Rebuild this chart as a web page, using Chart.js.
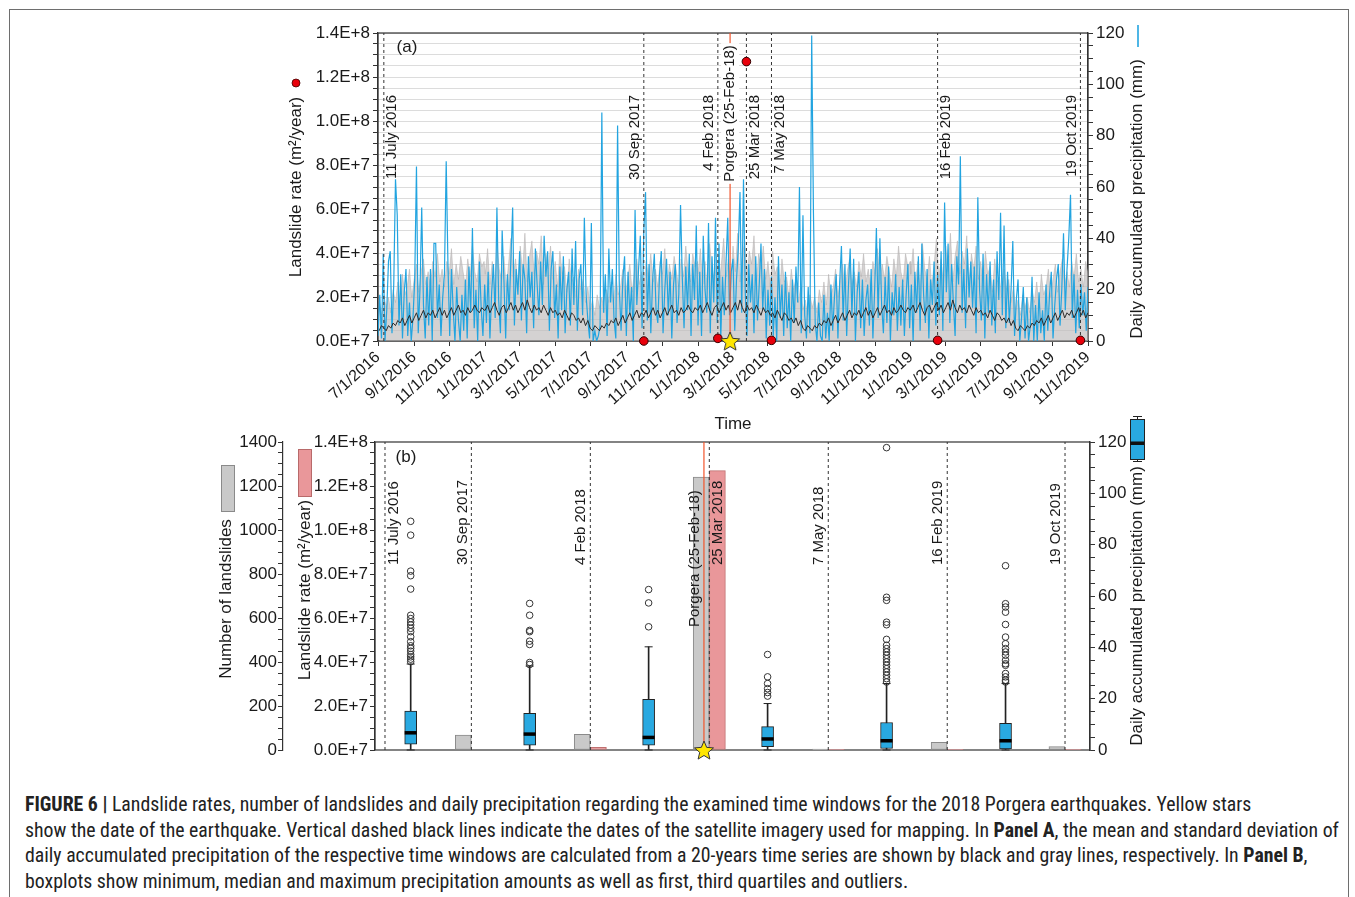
<!DOCTYPE html>
<html><head><meta charset="utf-8">
<script src="https://cdn.jsdelivr.net/npm/chart.js@4.4.1/dist/chart.umd.min.js"></script>
<style>
body{margin:0;background:#fff;}
#wrap{position:relative;width:1355px;height:897px;overflow:hidden;background:#fff;}
#frame{position:absolute;left:9px;top:9px;width:1338px;height:920px;border:1px solid #6e6e6e;}
canvas{position:absolute;left:0;}
#caption{position:absolute;left:25px;top:792px;font-family:"Liberation Sans Narrow","Roboto Condensed","DejaVu Sans Condensed",Arial,sans-serif;font-size:19.8px;line-height:25.6px;color:#222;white-space:nowrap;}
</style></head><body>
<div id="wrap">
<div id="frame"></div>
<canvas id="ca" width="1355" height="440" style="top:0"></canvas>
<canvas id="cb" width="1355" height="370" style="top:400px"></canvas>
<div id="caption"><b>FIGURE 6 |</b> Landslide rates, number of landslides and daily precipitation regarding the examined time windows for the 2018 Porgera earthquakes. Yellow stars<br>show the date of the earthquake. Vertical dashed black lines indicate the dates of the satellite imagery used for mapping. In <b>Panel A</b>, the mean and standard deviation of<br>daily accumulated precipitation of the respective time windows are calculated from a 20-years time series are shown by black and gray lines, respectively. In <b>Panel B</b>,<br>boxplots show minimum, median and maximum precipitation amounts as well as first, third quartiles and outliers.</div>
</div>
<script>
// ================= DATA =================
const START_DATE = '2016-07-01';
const END_DATE = '2019-11-01';
const xTickDates = ['2016-07-01','2016-09-01','2016-11-01','2017-01-01','2017-03-01','2017-05-01','2017-07-01','2017-09-01','2017-11-01','2018-01-01','2018-03-01','2018-05-01','2018-07-01','2018-09-01','2018-11-01','2019-01-01','2019-03-01','2019-05-01','2019-07-01','2019-09-01','2019-11-01'];
const xTickLabels = ['7/1/2016','9/1/2016','11/1/2016','1/1/2017','3/1/2017','5/1/2017','7/1/2017','9/1/2017','11/1/2017','1/1/2018','3/1/2018','5/1/2018','7/1/2018','9/1/2018','11/1/2018','1/1/2019','3/1/2019','5/1/2019','7/1/2019','9/1/2019','11/1/2019'];
const rateTicks = [0, 2e7, 4e7, 6e7, 8e7, 1e8, 1.2e8, 1.4e8];
const rateTickLabels = ['0.0E+7','2.0E+7','4.0E+7','6.0E+7','8.0E+7','1.0E+8','1.2E+8','1.4E+8'];
const precipTicks = [0, 20, 40, 60, 80, 100, 120];
const countTicks = [0, 200, 400, 600, 800, 1000, 1200, 1400];

const imageryDates = ['2016-07-11','2017-09-30','2018-02-04','2018-03-25','2018-05-07','2019-02-16','2019-10-19'];
const imageryLabels = ['11 July 2016','30 Sep 2017','4 Feb 2018','25 Mar 2018','7 May 2018','16 Feb 2019','19 Oct 2019'];
const quakeDate = '2018-02-25';
const quakeLabel = 'Porgera (25-Feb-18)';

// landslide rate (m2/year) and number of landslides at the end of each time window (imageryDates[1..6])
const landslideRate = [0, 1.2e6, 1.27e8, 3e5, 3e5, 3e5];
const landslideCount = [68, 71, 1240, 4, 35, 15];

// daily accumulated precipitation (mm), sampled every 3 days from 1 July 2016
const PRECIP_STEP_DAYS = 3;
const precipValues = [
2,18,1,34,0,12,31,35,3,22,63,49,6,26,1,19,28,2,15,0,
9,24,68,3,20,52,14,1,25,6,28,0,38,38,9,22,2,17,26,70,
30,2,28,12,0,21,8,0,18,4,24,1,29,11,44,5,20,0,31,13,
2,22,7,27,1,19,30,9,52,16,3,43,24,1,26,12,32,52,6,28,
18,35,8,30,24,3,33,17,27,5,36,22,10,31,14,41,25,35,4,28,
35,9,22,1,29,12,33,3,20,27,6,36,14,39,4,24,30,10,48,18,
8,1,46,0,4,0,2,6,89,11,26,2,36,15,28,8,1,84,20,4,
24,33,2,27,10,21,0,51,14,28,41,5,43,58,8,30,3,23,34,12,
7,26,35,3,20,32,10,27,1,22,30,7,18,53,25,5,29,12,34,2,
30,16,45,6,27,2,41,20,11,46,3,33,15,48,7,38,1,25,10,30,
48,10,27,32,4,24,36,58,11,63,19,2,30,15,26,3,33,8,22,38,
12,28,1,20,6,25,2,17,0,33,9,22,2,27,5,19,0,24,7,29,
15,60,3,49,10,1,21,3,119,50,7,0,15,2,0,18,1,11,0,22,
4,17,26,1,23,37,8,30,2,21,36,10,32,0,19,27,5,24,2,16,
22,6,28,1,20,44,9,40,14,3,25,7,29,0,19,10,26,4,21,6,
24,2,18,30,5,22,0,27,11,33,4,38,18,7,28,1,24,14,31,6,
26,10,35,4,54,19,38,7,30,15,2,33,22,72,11,28,5,36,17,31,
13,29,3,56,20,8,34,1,26,11,31,6,24,3,35,16,50,10,45,5,
27,7,20,39,2,16,24,0,9,21,1,17,0,6,25,0,14,0,19,3,
12,0,22,4,18,27,1,14,24,30,6,20,42,12,28,40,57,9,26,3,
20,5,22,10,19,4,21];

// 20-year climatology (mm) by day of year, every 4 days from 1 January
const CLIM_STEP_DAYS = 4;
const meanClimatology = [
12,14,11,13,15,12,10,13, 14,11,13,15,12,14,11, 13,15,12,16,13,11,14,12, 13,11,14,12,10,13,11,
12,10,11,9,12,10,8,11, 10,8,9,7,9,6,8, 5,4,6,5,4,6,5,7, 6,8,7,9,6,8,10,7,
9,11,8,10,12,9,11, 10,12,9,11,13,10,12,9, 11,13,10,12,14,11,12, 10,13,11,12,14,12,11,13,12];
const stdClimatology = [
26,36,22,31,20,38,28,24, 33,21,30,40,25,32,22, 37,27,42,23,33,39,26,35, 30,41,22,34,28,37,24,
31,21,35,26,29,19,32,23, 25,17,28,20,24,15,21, 12,16,10,18,13,17,11,20, 15,23,14,26,18,21,28,17,
24,30,19,27,32,22,27, 21,31,25,34,23,28,21,31, 26,36,22,30,24,33,27, 21,32,25,37,27,23,34,29,31];

// panel b boxplots (mm) per time window
const boxWhiskerLow  = [0, 0, 0, 0, 0, 0];
const boxQ1          = [2.3, 1.9, 1.9, 1.3, 0.6, 0.4];
const boxMedian      = [6.7, 6.2, 4.9, 4.3, 3.6, 3.6];
const boxQ3          = [15.2, 14.3, 19.7, 9.1, 10.7, 10.4];
const boxWhiskerHigh = [33.5, 32.7, 40.2, 18.1, 25.9, 25.9];
const boxOutliers = [
  [34.4,35.4,36.3,37.2,38.5,39.6,40.6,42.2,44.1,46.1,47.4,48.7,49.9,51.2,52.5,62.7,67.9,69.7,83.7,89.1],
  [33.3,34.1,41.1,42.4,46.1,46.6,52.5,57.1],
  [48.0,57.3,62.5],
  [21.0,22.4,23.9,25.9,28.5,37.2],
  [26.5,27.8,29.1,30.4,31.7,33.0,34.3,35.6,36.9,38.2,39.5,40.8,43.1,48.8,49.8,58.3,59.5,117.8],
  [26.5,27.2,28.5,29.8,33.0,33.6,35.0,36.9,38.2,39.5,41.4,44.0,48.9,53.7,55.7,57.0,71.8]
];

// ================= LAYOUT / STYLE =================
const FONT = '"Liberation Sans", Arial, Helvetica, sans-serif';
Chart.defaults.font.family = FONT;
Chart.defaults.color = '#222';
const BLUE = '#22a4e0';
const AXIS = '#333';

// panel b horizontal layout (window units)
const B_XMAX = 6.01, B_START = 0.084, B_QUAKE = 2.765, B_BAR_OFF = 0.068;
const B_WIN_END = [0.81, 1.81, 2.81, 3.81, 4.81, 5.80];
const B_BOX = [0.30, 1.30, 2.30, 3.30, 4.30, 5.30];
const A_SIDES = [1, -1, -1, 1, 1, 1, -1];
const B_SIDES = [1, -1, -1, 1, -1, -1, -1];

const DAY = 864e5;
const t0 = Date.parse(START_DATE + 'T00:00:00Z');
const dayOf = s => Math.round((Date.parse(s + 'T00:00:00Z') - t0) / DAY);
const X_MAX = dayOf(END_DATE);

function stepTicks(max, step) { const a = []; for (let k = 0; k * step <= max + 1e-9; k++) a.push({ value: k * step }); return a; }
function labelFrom(vals, labels) {
  return v => { const i = vals.findIndex(t => Math.abs(t - v) <= 1e-6 * (Math.abs(t) + 1)); return i >= 0 ? labels[i] : ''; };
}
function vLines(xs, top) { const d = []; xs.forEach(x => d.push({ x, y: 0 }, { x, y: top }, { x, y: null })); return d; }
function climSeries(arr) {
  const out = [];
  for (let yr = 2016; yr <= 2019; yr++) {
    const base = (Date.UTC(yr, 0, 1) - t0) / DAY;
    arr.forEach((v, k) => { const x = base + k * CLIM_STEP_DAYS; if (x >= 0 && x <= X_MAX) out.push({ x, y: v }); });
  }
  return out;
}
function makeStar(r) {
  const c = document.createElement('canvas'); const s = Math.ceil(r * 2 + 4); c.width = c.height = s;
  const g = c.getContext('2d'); g.translate(s / 2, s / 2 + 1); g.beginPath();
  for (let k = 0; k < 10; k++) { const rr = k % 2 ? r * 0.45 : r; const a = -Math.PI / 2 + k * Math.PI / 5; g.lineTo(rr * Math.cos(a), rr * Math.sin(a)); }
  g.closePath(); g.fillStyle = '#ffe600'; g.fill(); g.strokeStyle = '#333'; g.lineWidth = 1; g.stroke(); return c;
}
const starImg = makeStar(10);

function vText(ctx, text, x, y, align, size, bg) {
  ctx.save(); ctx.translate(x, y); ctx.rotate(-Math.PI / 2);
  ctx.font = size + 'px ' + FONT; ctx.textAlign = align; ctx.textBaseline = 'middle';
  if (bg) { const w = ctx.measureText(text).width; const x0 = align === 'center' ? -w / 2 : align === 'right' ? -w : 0; ctx.fillStyle = bg; ctx.fillRect(x0 - 2, -9, w + 4, 18); }
  ctx.fillStyle = '#1a1a1a'; ctx.fillText(text, 0, 0); ctx.restore();
}
function hText(ctx, text, x, y, size) {
  ctx.save(); ctx.font = size + 'px ' + FONT; ctx.textAlign = 'center'; ctx.textBaseline = 'middle'; ctx.fillStyle = '#1a1a1a'; ctx.fillText(text, x, y); ctx.restore();
}
function frame(chart) {
  const a = chart.chartArea, ctx = chart.ctx;
  ctx.save(); ctx.strokeStyle = AXIS; ctx.lineWidth = 1.2; ctx.strokeRect(a.left, a.top, a.right - a.left, a.bottom - a.top); ctx.restore();
}
function axisOpts(extra) {
  return Object.assign({
    border: { display: true, color: AXIS, width: 1.2 },
    grid: { drawOnChartArea: false, drawTicks: true, tickLength: 5, tickColor: AXIS, tickWidth: 1 },
    ticks: { autoSkip: false, color: '#1a1a1a', font: { size: 17 }, padding: 3, maxRotation: 0 }
  }, extra);
}

// ================= PANEL A =================
const quakeX = dayOf(quakeDate);
const imageryX = imageryDates.map(dayOf);

const annotA = {
  id: 'annotA',
  beforeDatasetsDraw(chart) { frame(chart); },
  afterDatasetsDraw(chart) {
    const ctx = chart.ctx, xs = chart.scales.x;
    imageryLabels.forEach((t, i) => vText(ctx, t, xs.getPixelForValue(imageryX[i]) + A_SIDES[i] * 8.5, 95, 'right', 15));
    vText(ctx, quakeLabel, xs.getPixelForValue(quakeX), 113.5, 'center', 15, '#fff');
  },
  afterDraw(chart) {
    const ctx = chart.ctx;
    hText(ctx, '(a)', 407, 47, 17);
    vText(ctx, 'Landslide rate (m²/year)', 296, 187, 'center', 17);
    vText(ctx, 'Daily accumulated precipitation (mm)', 1137, 199, 'center', 17);
    hText(ctx, 'Time', 733, 424, 17);
    ctx.save();
    ctx.beginPath(); ctx.arc(296, 83, 4, 0, Math.PI * 2); ctx.fillStyle = '#e8000b'; ctx.fill(); ctx.strokeStyle = '#400'; ctx.lineWidth = 0.8; ctx.stroke();
    ctx.beginPath(); ctx.moveTo(1138, 25); ctx.lineTo(1138, 47); ctx.strokeStyle = BLUE; ctx.lineWidth = 1.6; ctx.stroke();
    ctx.restore();
  }
};

new Chart(document.getElementById('ca'), {
  type: 'line',
  data: {
    datasets: [
      { type: 'scatter', data: [{ x: quakeX, y: 0 }], yAxisID: 'yRate', pointStyle: starImg, order: 0, clip: false },
      { type: 'scatter', data: imageryX.slice(1).map((x, i) => ({ x, y: landslideRate[i] })), yAxisID: 'yRate',
        pointRadius: 4.3, backgroundColor: '#e8000b', borderColor: '#300', borderWidth: 1, order: 1, clip: false },
      { data: vLines([quakeX], 1.4e8), yAxisID: 'yRate', borderColor: '#f2552c', borderWidth: 1.2, pointRadius: 0, order: 2 },
      { data: vLines(imageryX, 1.4e8), yAxisID: 'yRate', borderColor: '#333', borderWidth: 1, borderDash: [3, 3], pointRadius: 0, order: 3 },
      { data: climSeries(meanClimatology), yAxisID: 'yP', borderColor: '#2b2b2b', borderWidth: 1, pointRadius: 0, order: 4 },
      { data: precipValues.map((v, i) => ({ x: i * PRECIP_STEP_DAYS, y: v })), yAxisID: 'yP', borderColor: BLUE, borderWidth: 1.2, pointRadius: 0, order: 5 },
      { data: climSeries(stdClimatology), yAxisID: 'yP', borderColor: 'rgba(175,170,170,0.6)', backgroundColor: 'rgba(192,188,188,0.68)', fill: 'origin', borderWidth: 0.8, pointRadius: 0, order: 6 }
    ]
  },
  options: {
    responsive: false, animation: false, devicePixelRatio: 1,
    layout: { padding: { top: 33, left: 0, right: 0, bottom: 0 } },
    plugins: { legend: { display: false }, tooltip: { enabled: false } },
    elements: { line: { tension: 0 } },
    scales: {
      x: axisOpts({
        type: 'linear', min: 0, max: X_MAX,
        afterBuildTicks: s => { s.ticks = xTickDates.map(d => ({ value: dayOf(d) })); },
        afterFit: s => { s.height = 440 - 341; },
        ticks: { autoSkip: false, color: '#1a1a1a', font: { size: 16 }, padding: 2, minRotation: 42, maxRotation: 42,
                 callback: (v, i) => xTickLabels[i] }
      }),
      yRate: axisOpts({
        position: 'left', min: 0, max: 1.4e8,
        afterBuildTicks: s => { s.ticks = stepTicks(1.4e8, 5e6); },
        afterFit: s => { s.width = 378; },
        grid: { drawOnChartArea: true, color: '#dcdcdc', lineWidth: 1, drawTicks: true, tickLength: 5, tickColor: AXIS, tickWidth: 1 },
        ticks: { autoSkip: false, color: '#1a1a1a', font: { size: 17 }, padding: 3, callback: labelFrom(rateTicks, rateTickLabels) }
      }),
      yP: axisOpts({
        position: 'right', min: 0, max: 120,
        afterBuildTicks: s => { s.ticks = stepTicks(120, 5); },
        afterFit: s => { s.width = 1355 - 1088; },
        ticks: { autoSkip: false, color: '#1a1a1a', font: { size: 17 }, padding: 3, callback: labelFrom(precipTicks, precipTicks.map(String)) }
      })
    }
  },
  plugins: [annotA]
});

// ================= PANEL B =================
const annotB = {
  id: 'annotB',
  beforeDatasetsDraw(chart) { frame(chart); },
  afterDatasetsDraw(chart) {
    const ctx = chart.ctx, xs = chart.scales.x;
    const pos = [B_START].concat(B_WIN_END);
    imageryLabels.forEach((t, i) => vText(ctx, t, xs.getPixelForValue(pos[i]) + B_SIDES[i] * 9, 165, 'left', 15));
    vText(ctx, quakeLabel, xs.getPixelForValue(B_QUAKE) - 9, 227, 'left', 15);
  },
  afterDraw(chart) {
    const ctx = chart.ctx;
    hText(ctx, '(b)', 406, 57, 17);
    vText(ctx, 'Number of landslides', 226, 199, 'center', 17);
    vText(ctx, 'Landslide rate (m²/year)', 305, 190, 'center', 17);
    vText(ctx, 'Daily accumulated precipitation (mm)', 1137, 206, 'center', 17);
    ctx.save();
    ctx.fillStyle = '#c9c9c9'; ctx.strokeStyle = '#8a8a8a'; ctx.lineWidth = 1;
    ctx.fillRect(221, 65, 13, 46); ctx.strokeRect(221.5, 65.5, 13, 46);
    ctx.fillStyle = '#e9979a'; ctx.strokeStyle = '#b86a6a';
    ctx.fillRect(298, 49, 13, 47); ctx.strokeRect(298.5, 49.5, 13, 47);
    ctx.strokeStyle = '#222'; ctx.beginPath();
    ctx.moveTo(1137.5, 16); ctx.lineTo(1137.5, 62); ctx.moveTo(1133, 16.5); ctx.lineTo(1142, 16.5); ctx.moveTo(1133, 61.5); ctx.lineTo(1142, 61.5); ctx.stroke();
    ctx.fillStyle = '#29a9e1'; ctx.fillRect(1130, 19, 14, 40); ctx.strokeRect(1130.5, 19.5, 14, 40);
    ctx.fillStyle = '#111'; ctx.fillRect(1130, 41.5, 14, 3.5);
    ctx.restore();
  }
};

const barBase = { type: 'bar', grouped: false, borderSkipped: false };
new Chart(document.getElementById('cb'), {
  type: 'bar',
  data: {
    datasets: [
      { type: 'scatter', data: [{ x: B_QUAKE, y: 0 }], yAxisID: 'yRate', pointStyle: starImg, order: 0, clip: false },
      { type: 'scatter', data: boxOutliers.flatMap((arr, i) => arr.map(v => ({ x: B_BOX[i], y: v }))), yAxisID: 'yP',
        pointRadius: 3.3, pointStyle: 'circle', backgroundColor: 'rgba(255,255,255,0)', borderColor: '#333', borderWidth: 1, order: 1 },
      { type: 'scatter', data: boxMedian.map((v, i) => ({ x: B_BOX[i], y: v })), yAxisID: 'yP',
        pointStyle: 'line', pointRadius: 6, borderColor: '#000', borderWidth: 3.5, order: 2 },
      { type: 'scatter', data: boxWhiskerHigh.map((v, i) => ({ x: B_BOX[i], y: v })).concat(boxWhiskerLow.map((v, i) => ({ x: B_BOX[i], y: v }))), yAxisID: 'yP',
        pointStyle: 'line', pointRadius: 4, borderColor: '#222', borderWidth: 1, order: 3, clip: false },
      Object.assign({}, barBase, { data: boxQ1.map((v, i) => ({ x: B_BOX[i], y: [v, boxQ3[i]] })), yAxisID: 'yP',
        barThickness: 12, backgroundColor: '#29a9e1', borderColor: '#222', borderWidth: 1, order: 4 }),
      Object.assign({}, barBase, { data: boxWhiskerLow.map((v, i) => ({ x: B_BOX[i], y: [v, boxWhiskerHigh[i]] })), yAxisID: 'yP',
        barThickness: 1, backgroundColor: '#222', borderWidth: 0, order: 5 }),
      { type: 'line', data: vLines([B_QUAKE], 1.4e8), yAxisID: 'yRate', borderColor: '#f2552c', borderWidth: 1.2, pointRadius: 0, order: 6 },
      { type: 'line', data: vLines([B_START].concat(B_WIN_END), 1.4e8), yAxisID: 'yRate', borderColor: '#333', borderWidth: 1, borderDash: [3, 3], pointRadius: 0, order: 7 },
      Object.assign({}, barBase, { data: landslideRate.map((v, i) => ({ x: B_WIN_END[i] + B_BAR_OFF, y: v })), yAxisID: 'yRate',
        barThickness: 16, backgroundColor: '#e9979a', borderColor: '#c07070', borderWidth: 1, order: 8 }),
      Object.assign({}, barBase, { data: landslideCount.map((v, i) => ({ x: B_WIN_END[i] - B_BAR_OFF, y: v })), yAxisID: 'yCount',
        barThickness: 16, backgroundColor: '#c9c9c9', borderColor: '#8a8a8a', borderWidth: 1, order: 9 })
    ]
  },
  options: {
    responsive: false, animation: false, devicePixelRatio: 1,
    layout: { padding: { top: 42, left: 0, right: 0, bottom: 20 } },
    plugins: { legend: { display: false }, tooltip: { enabled: false } },
    scales: {
      x: { type: 'linear', display: false, min: 0, max: B_XMAX, offset: false },
      yCount: axisOpts({
        position: 'left', weight: 1, min: 0, max: 1400,
        afterBuildTicks: s => { s.ticks = stepTicks(1400, 50); },
        afterFit: s => { s.width = 283; },
        ticks: { autoSkip: false, color: '#1a1a1a', font: { size: 17 }, padding: 1, callback: labelFrom(countTicks, countTicks.map(String)) }
      }),
      yRate: axisOpts({
        position: 'left', weight: 0, min: 0, max: 1.4e8,
        afterBuildTicks: s => { s.ticks = stepTicks(1.4e8, 5e6); },
        afterFit: s => { s.width = 375 - 283; },
        ticks: { autoSkip: false, color: '#1a1a1a', font: { size: 17 }, padding: 2, callback: labelFrom(rateTicks, rateTickLabels) }
      }),
      yP: axisOpts({
        position: 'right', min: 0, max: 120,
        afterBuildTicks: s => { s.ticks = stepTicks(120, 5); },
        afterFit: s => { s.width = 1355 - 1090; },
        ticks: { autoSkip: false, color: '#1a1a1a', font: { size: 17 }, padding: 3, callback: labelFrom(precipTicks, precipTicks.map(String)) }
      })
    }
  },
  plugins: [annotB]
});
</script>
</body></html>
